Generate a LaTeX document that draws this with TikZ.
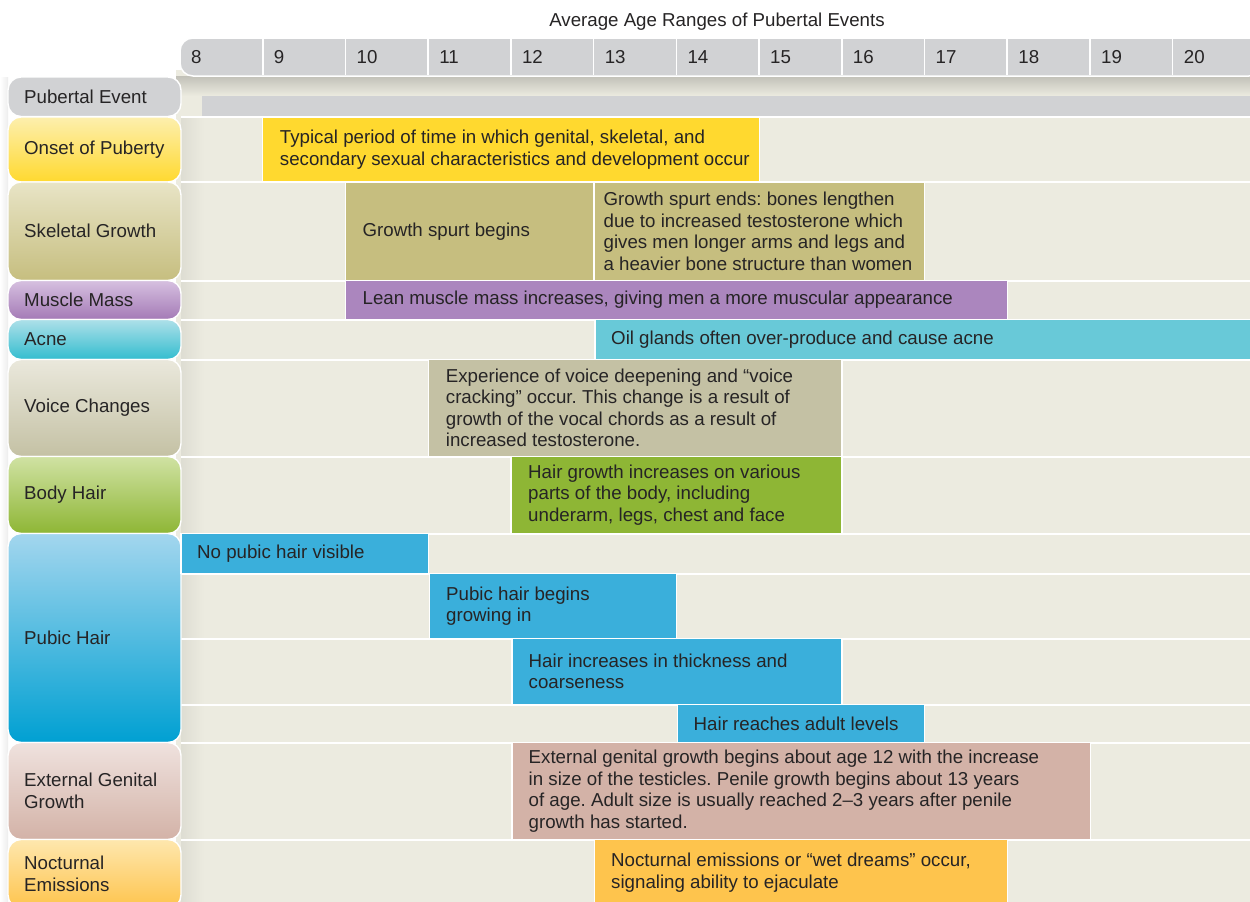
\documentclass[tikz,border=0pt]{standalone}
\usepackage{fontspec}
\setmainfont{Liberation Sans}
\frenchspacing
\definecolor{txt}{HTML}{262425}
\definecolor{bg}{HTML}{ECEBE0}
\definecolor{hdr}{HTML}{D1D2D4}
\definecolor{cOnset}{HTML}{FFD92F}
\definecolor{cOnsetT}{HTML}{FDEFAE}
\definecolor{cSkel}{HTML}{C6BE7F}
\definecolor{cSkelT}{HTML}{E8E4C6}
\definecolor{cMuscle}{HTML}{AB86BE}
\definecolor{cMuscleT}{HTML}{D6C0E0}
\definecolor{cMuscleB}{HTML}{A47AB6}
\definecolor{cAcne}{HTML}{68C9D8}
\definecolor{cAcneT}{HTML}{AEE0E9}
\definecolor{cAcneB}{HTML}{33BDCF}
\definecolor{cVoice}{HTML}{C4C1A4}
\definecolor{cVoiceT}{HTML}{EAE8DC}
\definecolor{cBody}{HTML}{8EB635}
\definecolor{cBodyT}{HTML}{D0E2A3}
\definecolor{cPubic}{HTML}{3AAFDB}
\definecolor{cPubicT}{HTML}{A3D6EE}
\definecolor{cPubicB}{HTML}{00A0D2}
\definecolor{cGen}{HTML}{D3B2A7}
\definecolor{cGenT}{HTML}{EFE2DE}
\definecolor{cNoct}{HTML}{FEC44D}
\definecolor{cNoctT}{HTML}{FEE7AE}
\newcommand\myfont{\fontsize{18.7}{21.5}\selectfont\frenchspacing}
\tikzset{
  bartext/.style={anchor=west, align=left, inner sep=0pt, font=\myfont, text=txt},
  labeltext/.style={anchor=west, align=left, inner sep=0pt, font=\myfont, text=txt},
  agetext/.style={anchor=west, inner sep=0pt, font=\myfont, text=txt},
  rowline/.style={draw=white, line width=2pt},
}
\newcommand\evbar[8]{%
  \path[fill=#6, draw=white, line width=1.4pt] (#2,#4) rectangle (#3,#5);
  \node[bartext] (#1) at ({#2+#7},{(#4+#5)/2}) {#8};}
\newcommand\evlabel[6]{%
  \shade[top color=#4, bottom color=#5, draw=white, line width=1.4pt, rounded corners=13pt] (8,#2) rectangle (181,#3);
  \node[labeltext] (#1) at (24,{(#2+#3)/2}) {#6};}
\begin{document}
\begin{tikzpicture}[x=1pt,y=-1pt]
\useasboundingbox (0,0) rectangle (1250,902);
\fill[white] (0,0) rectangle (1250,902);
% title
\node[anchor=base, inner sep=0pt, font=\myfont, text=txt] (title) at (717,27) {Average Age Ranges of Pubertal Events};
% beige panel
\fill[bg] (176,70) rectangle (1250,902);
\shade[top color=black!18!bg, bottom color=bg] (176,76) rectangle (1250,96);
\fill[hdr] (202,96) rectangle (1250,116.5);
% soft shadow strips
\shade[left color=white, right color=black!7] (0,77) rectangle (8,902);
\shade[left color=black!6!bg, right color=bg] (181,117) rectangle (204,902);
% row separators
\foreach \yy in {116.5,182,280.5,319.5,359.5,456.5,533.5,573.5,638.5,704.5,742.5,839.5}
  \draw[rowline] (181,\yy) -- (1250,\yy);
% header bar
\path[fill=hdr, draw=white, line width=1.5pt, rounded corners=13pt] (180,38) rectangle (1262,76);
\foreach \a in {9,...,20}
  \draw[white, line width=1.6pt] ({180+(\a-8)*82.72},38.8) -- ({180+(\a-8)*82.72},75.2);
\foreach \a in {8,...,20}
  \node[agetext] (age\a) at ({180+(\a-8)*82.72+11},57) {\a};
% labels
\evlabel{lpe}{77}{116.5}{hdr}{hdr}{Pubertal Event}
\evlabel{lonset}{117}{182}{cOnsetT}{cOnset}{Onset of Puberty}
\evlabel{lskel}{182}{280.5}{cSkelT}{cSkel}{Skeletal Growth}
\evlabel{lmuscle}{280.5}{319.5}{cMuscleT}{cMuscleB}{Muscle Mass}
\evlabel{lacne}{319.5}{359.5}{cAcneT}{cAcneB}{Acne}
\evlabel{lvoice}{359.5}{456.5}{cVoiceT}{cVoice}{Voice Changes}
\evlabel{lbody}{456.5}{533.5}{cBodyT}{cBody}{Body Hair}
\evlabel{lpubic}{533.5}{742.5}{cPubicT}{cPubicB}{Pubic Hair}
\evlabel{lgen}{742.5}{839.5}{cGenT}{cGen}{External Genital\\Growth}
\evlabel{lnoct}{839.5}{908}{cNoctT}{cNoct}{Nocturnal\\Emissions}
% bars
\evbar{bonset}{262.7}{759.3}{117}{182}{cOnset}{17}{Typical period of time in which genital, skeletal, and\\secondary sexual characteristics and development occur}
\evbar{bskelA}{345.4}{593.9}{182}{280.5}{cSkel}{17}{Growth spurt begins}
\evbar{bskelB}{593.9}{924.7}{182}{280.5}{cSkel}{9.5}{Growth spurt ends: bones lengthen\\due to increased testosterone which\\gives men longer arms and legs and\\a heavier bone structure than women}
\evbar{bmuscle}{345.4}{1007.5}{280.5}{319.5}{cMuscle}{17}{Lean muscle mass increases, giving men a more muscular appearance}
\evbar{bacne}{595}{1256}{319.5}{359.5}{cAcne}{16}{Oil glands often over-produce and cause acne}
\evbar{bvoice}{428.2}{842}{359.5}{456.5}{cVoice}{17.5}{Experience of voice deepening and “voice\\cracking” occur. This change is a result of\\growth of the vocal chords as a result of\\increased testosterone.}
\evbar{bbody}{511}{842}{456.5}{533.5}{cBody}{17}{Hair growth increases on various\\parts of the body, including\\underarm, legs, chest and face}
\evbar{bpub1}{181}{428.2}{533.5}{573.5}{cPubic}{16}{No pubic hair visible}
\evbar{bpub2}{429.5}{676.5}{573.5}{638.5}{cPubic}{16.5}{Pubic hair begins\\growing in}
\evbar{bpub3}{512}{842}{638.5}{704.5}{cPubic}{16.5}{Hair increases in thickness and\\coarseness}
\evbar{bpub4}{677.5}{924.7}{704.5}{742.5}{cPubic}{16}{Hair reaches adult levels}
\evbar{bgen}{512}{1090.2}{742.5}{839.5}{cGen}{16.5}{External genital growth begins about age 12 with the increase\\in size of the testicles. Penile growth begins about 13 years\\of age. Adult size is usually reached 2–3 years after penile\\growth has started.}
\evbar{bnoct}{594.5}{1007.5}{839.5}{906}{cNoct}{16.5}{Nocturnal emissions or “wet dreams” occur,\\signaling ability to ejaculate}
\end{tikzpicture}
\end{document}
